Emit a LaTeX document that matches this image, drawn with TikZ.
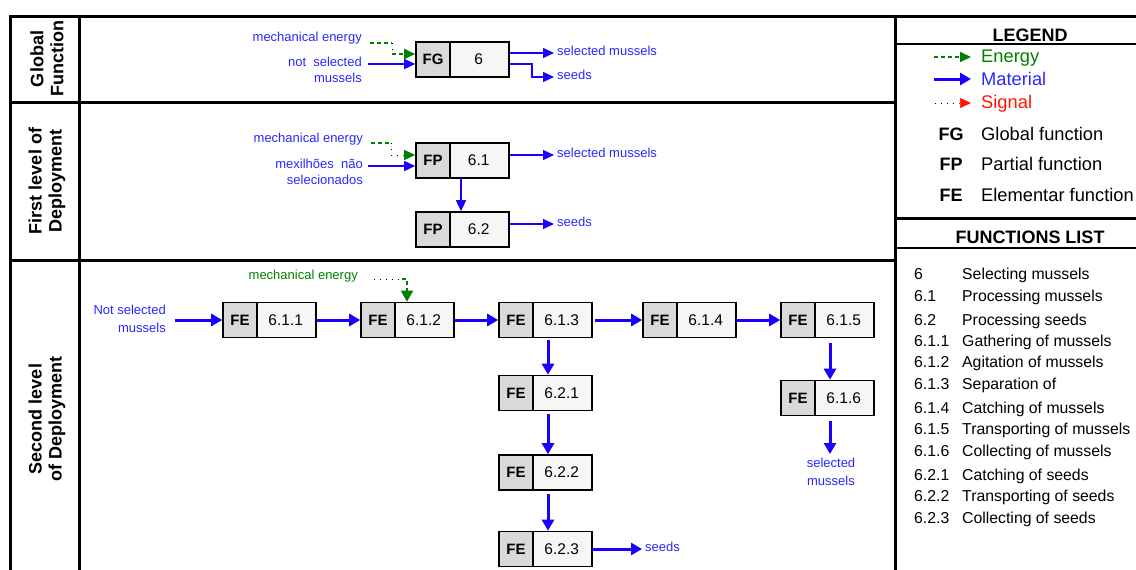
\documentclass[tikz,border=0pt]{standalone}
\usepackage{fontspec}
\setmainfont{Liberation Sans}
\usetikzlibrary{arrows.meta,calc}
\definecolor{mblue}{RGB}{25,0,255}
\definecolor{tblue}{RGB}{40,40,255}
\definecolor{egreen}{RGB}{0,128,0}
\definecolor{sred}{RGB}{255,20,0}
\definecolor{tagfill}{RGB}{217,217,217}
\definecolor{numfill}{RGB}{246,246,246}
\tikzset{
  frame/.style={line width=3pt, line cap=rect},
  thinframe/.style={line width=2pt},
  fbox/.style={draw, line width=1.6pt, fill=numfill, minimum width=93pt, minimum height=35pt, inner sep=0pt},
  ftag/.style={draw, line width=1.6pt, fill=tagfill, minimum width=34pt, minimum height=35pt, inner sep=0pt, font=\fontsize{15}{18}\selectfont\bfseries},
  fnum/.style={inner sep=0pt, font=\fontsize{15.5}{18}\selectfont},
  tip/.style={-{Triangle[length=11pt,width=10pt]}},
  mat/.style={draw=mblue, line width=1.5pt, tip, mblue},
  matthick/.style={draw=mblue, line width=3pt, -{Triangle[length=11pt,width=12pt]}, mblue},
  en/.style={draw=egreen, line width=2pt, dash pattern=on 4pt off 3pt},
  sig/.style={draw=black, line width=1pt, dash pattern=on 1pt off 5pt},
  lbl/.style={text=tblue, font=\fontsize{13}{16}\selectfont, inner sep=0pt, text height=0.75em, text depth=0.25em},
  mlbl/.style={text=tblue, font=\fontsize{13}{16}\selectfont, inner sep=0pt},
  rowtitle/.style={rotate=90, align=center, inner sep=0pt, font=\fontsize{18}{20}\selectfont\bfseries},
  head/.style={inner sep=0pt, font=\fontsize{18}{20}\selectfont\bfseries},
  legtxt/.style={inner sep=0pt, anchor=west, font=\fontsize{18.3}{20}\selectfont, text height=0.75em, text depth=0.25em},
  legtag/.style={inner sep=0pt, font=\fontsize{18}{20}\selectfont\bfseries, text height=0.75em, text depth=0.25em},
  fnlist/.style={inner sep=0pt, anchor=base west, font=\fontsize{15.8}{18}\selectfont},
}
\newcommand\fun[5]{%
  \node[fbox] (#1) at (#2,#3) {};
  \node[ftag, anchor=west] (#1t) at (#1.west) {#4};
  \node[fnum] (#1n) at ($(#1.west)+(63.5,0)$) {#5};
}
\begin{document}
\begin{tikzpicture}[x=1pt,y=-1pt]
\useasboundingbox (0,0) rectangle (1136,570);
% frame
\draw[frame] (10,16) -- (1136,16);
\draw[frame] (10,16) -- (10,572);
\draw[frame] (79,16) -- (79,572);
\draw[frame] (10,102) -- (895,102);
\draw[frame] (10,260) -- (895,260);
\draw[frame] (895,16) -- (895,572);
\draw[thinframe] (895,44) -- (1136,44);
\draw[frame] (895,218) -- (1136,218);
\draw[thinframe] (895,248) -- (1136,248);
% row titles
\node[rowtitle] (t1) at (47,59) {Global\\Function};
\node[rowtitle] (t2) at (47,181) {First level of\\Deployment};
\node[rowtitle] (t3) at (47,419) {Second level\\of Deployment};

% ---------- Global function
\fun{fg}{462.5}{59.5}{FG}{6}
\node[lbl, anchor=east] (ge) at (362,39) {mechanical energy};
\node[mlbl, anchor=east, align=right] (gm) at (362,70) {not\ \ selected\\mussels};
\coordinate (ge0) at (370,43);
\coordinate (ge1) at (392,43);
\coordinate (ge2) at (392,54);
\coordinate (gm0) at (368,64);
\draw[en] (ge0) -- (ge1);
\draw[sig] (ge1) -- (ge2);
\draw[en, egreen, tip] (ge2) -- (ge2 -| fg.west);
\draw[mat] (gm0) -- (gm0 -| fg.west);
\node[lbl, anchor=west] (gsel) at (557,53) {selected mussels};
\node[lbl, anchor=west] (gseed) at (557,77) {seeds};
\draw[mat] (fg.east |- gsel) -- ([xshift=-3pt]gsel.west);
\coordinate (gs1) at (532,64);
\draw[mat] (fg.east |- gs1) -- (gs1) |- ([xshift=-3pt]gseed.west);

% ---------- First level
\fun{fp1}{462.5}{160.5}{FP}{6.1}
\fun{fp2}{462.5}{229.5}{FP}{6.2}
\node[lbl, anchor=east] (fe) at (363,140) {mechanical energy};
\node[mlbl, anchor=east, align=right] (fm) at (363,172) {mexilhões\ \ não\\selecionados};
\coordinate (fe0) at (371,143);
\coordinate (fe1) at (391,143);
\coordinate (fe2) at (393,155);
\coordinate (fe3) at (403,155);
\coordinate (fm0) at (368,166);
\draw[en] (fe0) -- (fe1);
\draw[sig] (fe1) -- (fe1 |- fe2) -- (fe3);
\draw[egreen, line width=1pt, tip] (fe3) -- (fe3 -| fp1.west);
\draw[mat] (fm0) -- (fm0 -| fp1.west);
\node[lbl, anchor=west] (fsel) at (557,155) {selected mussels};
\node[lbl, anchor=west] (fseed) at (557,224) {seeds};
\draw[mat] (fp1.east |- fsel) -- ([xshift=-3pt]fsel.west);
\draw[mat] (fp2.east |- fseed) -- ([xshift=-3pt]fseed.west);
\draw[mat] (fp1.south -| 461,0) -- (fp2.north -| 461,0);

% ---------- Second level
\fun{e611}{269.5}{320}{FE}{6.1.1}
\fun{e612}{407.5}{320}{FE}{6.1.2}
\fun{e613}{545.5}{320}{FE}{6.1.3}
\fun{e614}{689.5}{320}{FE}{6.1.4}
\fun{e615}{827.5}{320}{FE}{6.1.5}
\fun{e616}{827.5}{398}{FE}{6.1.6}
\fun{e621}{545.5}{393}{FE}{6.2.1}
\fun{e622}{545.5}{472.5}{FE}{6.2.2}
\fun{e623}{545.5}{549}{FE}{6.2.3}
\node[lbl, text=egreen, anchor=east] (se) at (358,277) {mechanical energy};
\coordinate (se0) at (374,279);
\coordinate (se1) at (402,279);
\coordinate (se2) at (407,279);
\draw[sig] (se0) -- (se1);
\draw[en, egreen, -{Triangle[length=11pt,width=12pt]}] (se1) -- (se2) -- (se2 |- e612.north);
\node[mlbl, anchor=east, align=right, font=\fontsize{13}{18}\selectfont] (sm) at (166,319) {Not selected\\mussels};
\coordinate (sm0) at (175,320);
\draw[matthick] (sm0) -- (e611.west);
\draw[matthick] (e611.east) -- (e612.west);
\draw[matthick] (e612.east) -- (e613.west);
\draw[matthick, shorten <=2pt] (e613.east) -- (e614.west);
\draw[matthick] (e614.east) -- (e615.west);
\draw[matthick, shorten <=2pt] (e613.south -| 548,0) -- (e621.north -| 548,0);
\draw[matthick, shorten <=3pt] (e621.south -| 548,0) -- (e622.north -| 548,0);
\draw[matthick, shorten <=3pt] (e622.south -| 548,0) -- (e623.north -| 548,0);
\draw[matthick, shorten <=5pt] (e615.south -| 830,0) -- (e616.north -| 830,0);
\node[mlbl, align=center, font=\fontsize{13}{18}\selectfont] (ssel) at (831,472) {selected\\mussels};
\coordinate (ss0) at (830,454);
\draw[matthick, shorten <=5pt] (e616.south -| ss0) -- (ss0);
\node[lbl, anchor=west] (sseed) at (645,549) {seeds};
\draw[matthick] (e623.east) -- ([xshift=-3pt]sseed.west);

% ---------- Legend
\node[head] (leg) at (1030,35) {LEGEND};
\coordinate (l1a) at (934,57); \coordinate (l1b) at (971,57);
\coordinate (l2a) at (934,79); \coordinate (l2b) at (971,79);
\coordinate (l3a) at (935,103); \coordinate (l3b) at (959,103); \coordinate (l3c) at (971,103);
\draw[en, egreen, tip] (l1a) -- (l1b);
\draw[matthick] (l2a) -- (l2b);
\draw[sig] (l3a) -- (l3b);
\draw[sred, line width=0.5pt, tip] (l3b) -- (l3c);
\node[legtxt, text=egreen] (lE) at (981,60) {Energy};
\node[legtxt, text=tblue] (lM) at (981,83) {Material};
\node[legtxt, text=sred] (lS) at (981,106) {Signal};
\node[legtag] (lfg) at (951,138) {FG};
\node[legtag] (lfp) at (951,168) {FP};
\node[legtag] (lfe) at (951,199) {FE};
\node[legtxt] (dfg) at (981,138) {Global function};
\node[legtxt] (dfp) at (981,168) {Partial function};
\node[legtxt] (dfe) at (981,199) {Elementar function};
\node[head] (fl) at (1030,237) {FUNCTIONS LIST};
% functions list
\foreach \n/\t/\y in {6/Selecting mussels/279, 6.1/Processing mussels/301, 6.2/Processing seeds/325,
  6.1.1/Gathering of mussels/346, 6.1.2/Agitation of mussels/367, 6.1.3/Separation of/389,
  6.1.4/Catching of mussels/413, 6.1.5/Transporting of mussels/434, 6.1.6/Collecting of mussels/456,
  6.2.1/Catching of seeds/480, 6.2.2/Transporting of seeds/501, 6.2.3/Collecting of seeds/523}{
  \node[fnlist] (num\n) at (914,\y) {\n};
  \node[fnlist] (txt\n) at (962,\y) {\t};
}
\end{tikzpicture}
\end{document}
